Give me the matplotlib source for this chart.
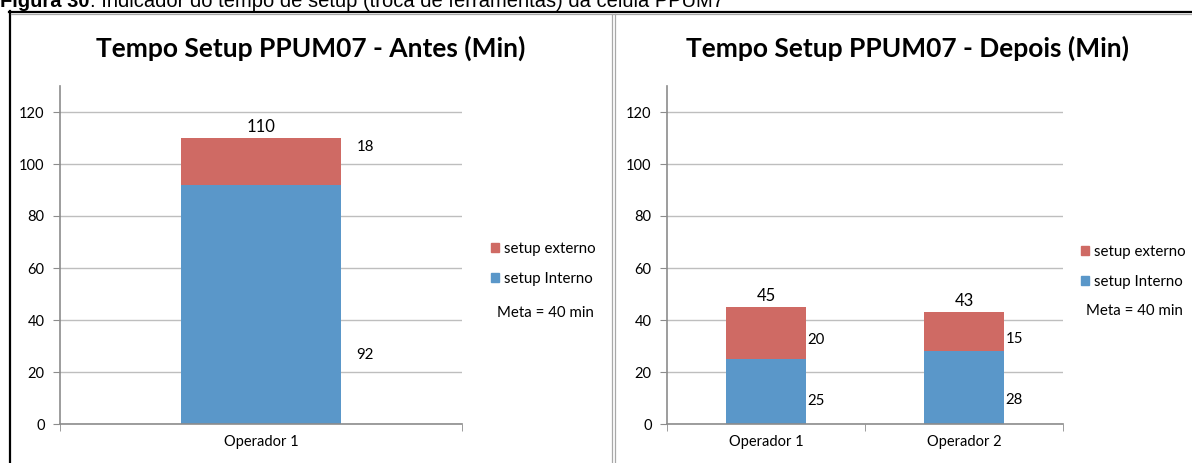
import matplotlib
matplotlib.use("Agg")
import matplotlib.pyplot as plt
from matplotlib.lines import Line2D
from matplotlib.patches import Patch

# ---- data ----
operators_before = ["Operador 1"]
internal_before = [92]
external_before = [18]

operators_after = ["Operador 1", "Operador 2"]
internal_after = [25, 28]
external_after = [20, 15]

series_names = ["setup externo", "setup Interno"]
goal_text = "Meta = 40 min"
yticks = [0, 20, 40, 60, 80, 100, 120]

titles = ["Tempo Setup PPUM07 - Antes (Min)", "Tempo Setup PPUM07 - Depois (Min)"]
caption_bold = "Figura 30"
caption_rest = ": Indicador do tempo de setup (troca de ferramentas) da célula PPUM7"

# ---- style ----
RED = "#CF6A64"
BLUE = "#5A97C9"
AXIS = "#8C8C8C"
GRID = "#BEBEBE"
FONT = ["Lato", "DejaVu Sans"]
plt.rcParams["font.family"] = FONT

W, H = 1192, 463
fig = plt.figure(figsize=(W / 100, H / 100), dpi=100)


def fx(px):
    return px / W


def fy(py):
    return 1 - py / H


# frame lines around the two chart panels
fig.add_artist(Line2D([fx(9), fx(W)], [fy(11.5), fy(11.5)], color="black", lw=1.6, transform=fig.transFigure))
fig.add_artist(Line2D([fx(9.5), fx(9.5)], [fy(11), fy(H)], color="black", lw=1.6, transform=fig.transFigure))
fig.add_artist(Line2D([fx(10.5), fx(W)], [fy(13.8), fy(13.8)], color="#A8A8A8", lw=0.9, transform=fig.transFigure))
fig.add_artist(Line2D([fx(611.5), fx(611.5)], [fy(13.8), fy(H)], color="#A8A8A8", lw=0.9, transform=fig.transFigure))
fig.add_artist(Line2D([fx(615), fx(615)], [fy(13.8), fy(H)], color="#A8A8A8", lw=0.9, transform=fig.transFigure))

# caption running along the top edge of the page
cap = fig.text(fx(0), fy(7), caption_bold, fontsize=14.5, fontweight="bold",
               family="Liberation Sans", va="baseline", ha="left")
fig.canvas.draw()
bb = cap.get_window_extent()
fig.text(bb.x1 / W, fy(7), caption_rest, fontsize=14.5, family="Liberation Sans",
         va="baseline", ha="left")


def setup_axes(ax, n):
    ax.set_xlim(-0.5, n - 0.5)
    ax.set_ylim(0, 130)
    ax.set_yticks(yticks)
    ax.yaxis.grid(True, color=GRID, lw=1.0)
    ax.set_axisbelow(True)
    for s in ("top", "right"):
        ax.spines[s].set_visible(False)
    for s in ("left", "bottom"):
        ax.spines[s].set_color(AXIS)
        ax.spines[s].set_linewidth(1.2)
    ax.tick_params(axis="y", length=5, color=AXIS, labelsize=10.5, pad=6)
    ax.set_xticks(range(n))
    ax.set_xticks([i - 0.5 for i in range(n + 1)], minor=True)
    ax.tick_params(axis="x", which="major", length=0, labelsize=10.5, pad=8)
    ax.tick_params(axis="x", which="minor", length=5, color=AXIS)


def draw_chart(ax, cats, internal, external, ext_label_y, int_label_y, side_offset, top_offset):
    n = len(cats)
    xs = list(range(n))
    width = 0.4
    ax.bar(xs, internal, width, color=BLUE, zorder=2)
    ax.bar(xs, external, width, bottom=internal, color=RED, zorder=2)
    ax.set_xticklabels(cats)
    for i in xs:
        total = internal[i] + external[i]
        ax.annotate(f"{total}", (i, total), xytext=(0, top_offset), textcoords="offset pixels",
                    ha="center", va="bottom", fontsize=12)
        ax.annotate(f"{external[i]}", (i + width / 2, ext_label_y[i]), xytext=(side_offset, 0),
                    textcoords="offset pixels", ha="left", va="center", fontsize=10.8)
        ax.annotate(f"{internal[i]}", (i + width / 2, int_label_y[i]), xytext=(side_offset, 0),
                    textcoords="offset pixels", ha="left", va="center", fontsize=10.8)


def panel_legend(x_sq, y_ext, y_goal, x_goal):
    fig.legend(handles=[Patch(color=RED), Patch(color=BLUE)], labels=series_names,
               loc="upper left", bbox_to_anchor=(fx(x_sq - 6), fy(y_ext - 13)),
               frameon=False, fontsize=10.8, handlelength=0.55, handleheight=0.55,
               handletextpad=0.3, labelspacing=1.05, borderaxespad=0)
    fig.text(fx(x_goal), fy(y_goal), goal_text, fontsize=10.8, va="center", ha="left")


# ---- left chart: before ----
axL = fig.add_axes([fx(60), fy(424), fx(462 - 60), (424 - 86) / H])
setup_axes(axL, len(operators_before))
draw_chart(axL, operators_before, internal_before, external_before,
           ext_label_y=[106.5], int_label_y=[26.5], side_offset=15, top_offset=3)
fig.text(fx(311), fy(48), titles[0], fontsize=19, fontweight="bold", ha="center", va="center")
panel_legend(491, 249, 313, 497)

# ---- right chart: after ----
axR = fig.add_axes([fx(667), fy(424), fx(1063 - 667), (424 - 86) / H])
setup_axes(axR, len(operators_after))
draw_chart(axR, operators_after, internal_after, external_after,
           ext_label_y=[32.3, 32.7], int_label_y=[8.8, 9.2], side_offset=2, top_offset=3)
fig.text(fx(908), fy(48), titles[1], fontsize=19, fontweight="bold", ha="center", va="center")
panel_legend(1081, 252, 311, 1086)

fig.savefig("out.png", dpi=100)
